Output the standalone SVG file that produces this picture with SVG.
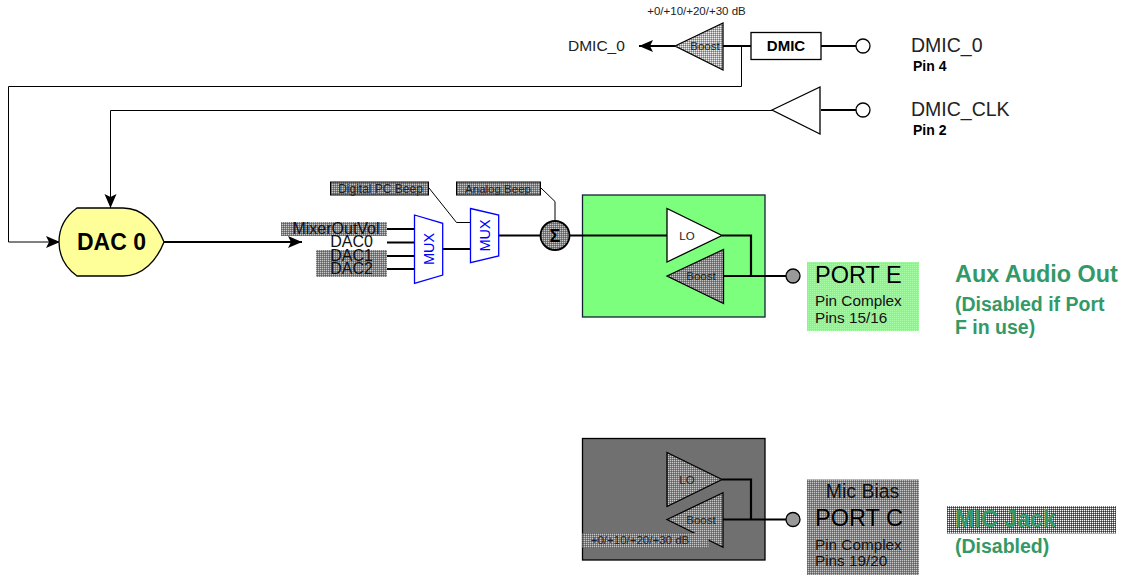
<svg xmlns="http://www.w3.org/2000/svg" width="1126" height="575" viewBox="0 0 1126 575">
<style>
text{font-family:"Liberation Sans",Arial,sans-serif;fill:#000}
.w{fill:none;stroke:#000;stroke-width:1}
.t{fill:none;stroke:#000;stroke-width:2.200}
.s{stroke:#000;stroke-width:1.3}
.b{font-weight:bold}
.mux{fill:#fff;stroke:#00f;stroke-width:1.3}
.mt{fill:#00f;font-size:14.500px;text-anchor:middle}
.lab{font-size:16px;fill:#111}
.sm{font-size:11.500px;fill:#222}
.c{text-anchor:middle}
.gt{fill:#339966;font-weight:bold}
</style>
<defs>
<pattern id="dg" width="2" height="2" patternUnits="userSpaceOnUse"><rect width="2" height="2" fill="#808080"/><rect width="1" height="1" fill="#c8c8c8"/><rect x="1" y="1" width="1" height="1" fill="#606060"/></pattern>
<pattern id="dl" width="2" height="2" patternUnits="userSpaceOnUse"><rect width="2" height="2" fill="#aaa"/><rect width="1" height="1" fill="#eee"/><rect x="1" y="1" width="1" height="1" fill="#777"/></pattern>
<pattern id="dd" width="2" height="2" patternUnits="userSpaceOnUse"><rect width="2" height="2" fill="#777"/><rect width="1" height="1" fill="#fff"/><rect x="1" y="1" width="1" height="1" fill="#333"/></pattern>
<pattern id="dn" width="2" height="2" patternUnits="userSpaceOnUse"><rect width="2" height="2" fill="#7cff7c"/><rect width="1" height="1" fill="#a8ffa8"/></pattern>
<marker id="ar" markerUnits="userSpaceOnUse" markerWidth="15" markerHeight="14" refX="14" refY="7" orient="auto"><path d="M0 1L14 7L0 13L3 7Z" fill="#000"/></marker>
</defs>

<g id="green-block"><rect x="582.500" y="195" width="182.500" height="122" fill="#7cff7c" stroke="#123" stroke-width="1.3"/></g>
<g id="gray-block"><rect x="582.500" y="438.500" width="182.500" height="121.500" fill="#707070" stroke="#000" stroke-width="1.3"/></g>

<g id="connectors">
<path class="t" d="M723 46H751M821 46H857M821 110H857"/>
<path class="t" d="M675 46H639" marker-end="url(#ar)"/>
<path class="w" d="M741.500 46V86.500H8.500V242H60" marker-end="url(#ar)"/>
<path class="w" d="M772 110.500H110.500V208" marker-end="url(#ar)"/>
<path class="t" d="M164 242H302" marker-end="url(#ar)"/>
<path class="t" d="M387 229H414M387 242.500H414M387 256H414M387 269H414"/>
<path class="t" d="M443 249H470M499 235.500H540M570 235.500H667"/>
<path class="w" d="M429 188L456.500 222.500H470M541 188L555 201.500V220"/>
<path class="t" d="M722 235.500H751V276M723 276H787"/>
<path class="t" d="M722 479.500H751V519.500M723 519.500H787"/>
</g>

<g id="boost-top"><path d="M675 46L723 23V70Z" fill="url(#dl)" class="s"/><text x="705" y="50" class="sm c">Boost</text><text x="696.500" y="15" class="sm c">+0/+10/+20/+30 dB</text></g>
<g id="dmic-out"><text x="568" y="51" font-size="15.500" style="fill:#222">DMIC_0</text></g>
<g id="dmic"><rect x="751" y="32.500" width="70" height="27" fill="#fff" stroke="#000" stroke-width="1.3"/><text x="786" y="51" class="b c" font-size="15">DMIC</text></g>
<g id="pin-dmic0"><circle cx="863" cy="46" r="7" fill="#fff" class="s"/><text x="911" y="52" font-size="19.500" style="fill:#222">DMIC_0</text><text x="913" y="71" class="b" font-size="14">Pin 4</text></g>
<g id="buf-clk"><path d="M772 110L820 87V134Z" fill="#fff" class="s"/></g>
<g id="pin-clk"><circle cx="863" cy="110" r="7" fill="#fff" class="s"/><text x="911" y="116" font-size="19.500" style="fill:#222">DMIC_CLK</text><text x="913" y="135" class="b" font-size="14">Pin 2</text></g>

<g id="dac0"><path d="M77 208H123C143 208 157 224 164 242C157 260 143 276 123 276H77C66 268 59 256 59 242C59 228 66 216 77 208Z" fill="#ffff99" stroke="#000" stroke-width="1.3"/><text x="111.500" y="250" class="b c" font-size="23">DAC 0</text></g>

<g id="inputs">
<rect x="281" y="222" width="106" height="14" fill="url(#dg)"/>
<rect x="316" y="250" width="71" height="27" fill="url(#dg)"/>
<text x="336" y="234" class="lab c">MixerOutVol</text>
<text x="351.500" y="247" class="lab c">DAC0</text>
<text x="351.500" y="260.500" class="lab c">DAC1</text>
<text x="351.500" y="274" class="lab c">DAC2</text>
</g>
<g id="mux1"><path d="M414.500 215L442.700 223.300V275L414.500 283.300Z" class="mux"/><text transform="translate(434 249) rotate(-90)" class="mt">MUX</text></g>
<g id="mux2"><path d="M470.500 208.500L498.700 215V256L470.500 262.700Z" class="mux"/><text transform="translate(490 235.500) rotate(-90)" class="mt">MUX</text></g>
<g id="digital-beep"><rect x="330.500" y="182" width="98" height="13" fill="url(#dg)" stroke="#000"/><text x="380.500" y="192.500" class="sm c" style="font-size:12px">Digital PC Beep</text></g>
<g id="analog-beep"><rect x="456.500" y="182" width="84" height="13" fill="url(#dg)" stroke="#000"/><text x="498" y="192.500" class="sm c">Analog Beep</text></g>
<g id="sum"><circle cx="555" cy="235.500" r="14.500" fill="url(#dg)" stroke="#000" stroke-width="1.8"/><text x="555" y="242" class="b c" font-size="18">Σ</text></g>

<g id="lo-e"><path d="M667 208.500V262L722 235.500Z" fill="#fff" class="s"/><text x="687" y="239.500" class="sm c">LO</text></g>
<g id="boost-e"><path d="M667 276L723.500 249.500V303.500Z" fill="url(#dg)" class="s"/><text x="701" y="280" class="sm c">Boost</text></g>
<g id="pin-e"><circle cx="793" cy="276" r="7" fill="#999" class="s"/></g>
<g id="port-e"><rect x="807" y="262" width="112" height="69" fill="url(#dn)"/><text x="815" y="283" font-size="23.500">PORT E</text><text x="815" y="305.500" font-size="15.300" style="fill:#111">Pin Complex</text><text x="815" y="323" font-size="15.300" style="fill:#111">Pins 15/16</text></g>
<g id="aux"><text x="955" y="282" class="gt" font-size="23.400">Aux Audio Out</text><text x="955" y="311" class="gt" font-size="19.500">(Disabled if Port</text><text x="955" y="334" class="gt" font-size="19.500">F in use)</text></g>

<g id="lo-c"><path d="M667 452.500V506.500L722 479.500Z" fill="url(#dg)" class="s"/><text x="687" y="483.500" class="sm c">LO</text></g>
<g id="boost-c"><path d="M667 519.500L723 492.700V547.300Z" fill="url(#dg)" class="s"/><text x="701" y="523.500" class="sm c">Boost</text></g>
<g id="gain-c"><rect x="582.500" y="533" width="126" height="15" fill="url(#dg)"/><text x="640" y="544" class="sm c">+0/+10/+20/+30 dB</text></g>
<g id="pin-c"><circle cx="793" cy="519.500" r="7" fill="#999" class="s"/></g>
<g id="port-c"><rect x="807" y="479.500" width="112" height="95.500" fill="url(#dg)"/><text x="862.500" y="498" class="c" font-size="19.500" style="fill:#111">Mic Bias</text><text x="815" y="526" font-size="23.500">PORT C</text><text x="815" y="549.500" font-size="15.300" style="fill:#111">Pin Complex</text><text x="815" y="566" font-size="15.300" style="fill:#111">Pins 19/20</text></g>
<g id="mic"><rect x="947" y="506" width="169" height="27.500" fill="url(#dd)"/><text x="955" y="526.500" class="gt" font-size="23.300">MIC Jack</text><text x="955" y="553" class="gt" font-size="19.500">(Disabled)</text></g>
</svg>
